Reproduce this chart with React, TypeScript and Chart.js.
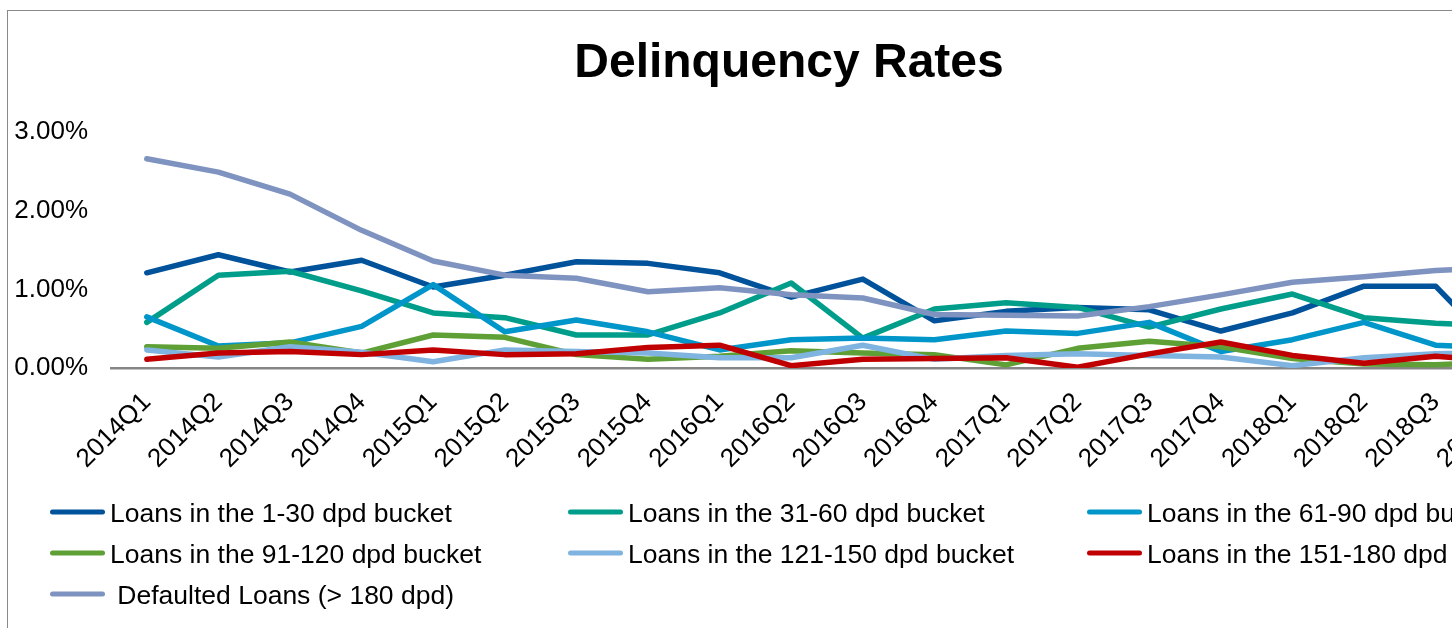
import React, { useEffect, useRef } from 'react';
import { Chart, registerables } from 'chart.js';

Chart.register(...registerables);

const quarters = [
  '2014Q1', '2014Q2', '2014Q3', '2014Q4',
  '2015Q1', '2015Q2', '2015Q3', '2015Q4',
  '2016Q1', '2016Q2', '2016Q3', '2016Q4',
  '2017Q1', '2017Q2', '2017Q3', '2017Q4',
  '2018Q1', '2018Q2', '2018Q3', '2018Q4',
];

const yTicks = [0, 1, 2, 3];

const chartTitle = 'Delinquency Rates';

const bucket1to30 = [1.21, 1.44, 1.22, 1.37, 1.03, 1.18, 1.35, 1.33, 1.21, 0.90, 1.13, 0.60, 0.72, 0.77, 0.74, 0.47, 0.70, 1.04, 1.04, 0.10];
const bucket31to60 = [0.58, 1.18, 1.23, 0.98, 0.70, 0.64, 0.42, 0.42, 0.70, 1.08, 0.38, 0.75, 0.83, 0.77, 0.52, 0.75, 0.94, 0.64, 0.57, 0.53];
const bucket61to90 = [0.65, 0.28, 0.32, 0.53, 1.06, 0.46, 0.61, 0.46, 0.23, 0.36, 0.38, 0.36, 0.47, 0.44, 0.58, 0.21, 0.36, 0.58, 0.29, 0.25];
const bucket91to120 = [0.27, 0.25, 0.33, 0.19, 0.42, 0.39, 0.17, 0.11, 0.15, 0.22, 0.19, 0.17, 0.04, 0.25, 0.34, 0.27, 0.12, 0.05, 0.04, 0.08];
const bucket121to150 = [0.23, 0.14, 0.27, 0.20, 0.08, 0.23, 0.21, 0.19, 0.13, 0.13, 0.29, 0.11, 0.16, 0.18, 0.16, 0.14, 0.03, 0.13, 0.18, 0.20];
const bucket151to180 = [0.11, 0.19, 0.21, 0.17, 0.23, 0.17, 0.18, 0.26, 0.29, 0.03, 0.11, 0.12, 0.13, 0.01, 0.18, 0.33, 0.16, 0.06, 0.15, 0.08];
const defaulted = [2.66, 2.49, 2.21, 1.75, 1.36, 1.18, 1.14, 0.97, 1.02, 0.93, 0.89, 0.68, 0.67, 0.66, 0.78, 0.93, 1.09, 1.16, 1.24, 1.28];

const seriesLabels = [
  'Loans in the 1-30 dpd bucket',
  'Loans in the 31-60 dpd bucket',
  'Loans in the 61-90 dpd bucket',
  'Loans in the 91-120 dpd bucket',
  'Loans in the 121-150 dpd bucket',
  'Loans in the 151-180 dpd bucket',
  ' Defaulted Loans (> 180 dpd)',
];
const seriesValues = [bucket1to30, bucket31to60, bucket61to90, bucket91to120, bucket121to150, bucket151to180, defaulted];
const seriesColors = ['#00529B', '#009E8A', '#0096C9', '#5EA036', '#7FB3E0', '#C00000', '#7F93C1'];

const FONT = '"Liberation Sans", Arial, sans-serif';
const CANVAS_W = 1562;
const CANVAS_H = 630;
const LEGEND_COL_X = [42, 560, 1079];
const LEGEND_ROW_Y = [501, 542, 583];

const titleAndLegend = {
  id: 'titleAndLegend',
  afterDraw(chart: any) {
    const ctx = chart.ctx as CanvasRenderingContext2D;
    ctx.save();
    // title, centred on the whole chart
    ctx.fillStyle = '#000';
    ctx.font = `bold 48px ${FONT}`;
    ctx.textAlign = 'center';
    ctx.textBaseline = 'alphabetic';
    ctx.fillText(chartTitle, chart.width / 2, 66);
    // legend in three columns
    chart.data.datasets.forEach((ds: any, i: number) => {
      const col = i % 3;
      const row = Math.floor(i / 3);
      const x = LEGEND_COL_X[col];
      const y = LEGEND_ROW_Y[row];
      ctx.strokeStyle = ds.borderColor;
      ctx.lineWidth = 5;
      ctx.lineCap = 'round';
      ctx.beginPath();
      ctx.moveTo(x + 2.5, y);
      ctx.lineTo(x + 52.5, y);
      ctx.stroke();
      ctx.fillStyle = '#000';
      ctx.font = `26.5px ${FONT}`;
      ctx.textBaseline = 'alphabetic';
      ctx.textAlign = 'left';
      ctx.fillText(ds.label, x + 60, y + 9.5);
    });
    ctx.restore();
  },
};

export default function App() {
  const ref = useRef<HTMLCanvasElement>(null);

  useEffect(() => {
    const canvas = ref.current;
    if (!canvas) return;
    const chart = new Chart(canvas, {
      type: 'line',
      data: {
        labels: quarters,
        datasets: seriesValues.map((vals, i) => ({
          label: seriesLabels[i],
          data: vals,
          borderColor: seriesColors[i],
          backgroundColor: seriesColors[i],
          borderWidth: 5.5,
          pointRadius: 0,
          pointHoverRadius: 0,
          tension: 0,
          fill: false,
          borderCapStyle: 'round',
          borderJoinStyle: 'round',
          order: seriesValues.length - i,
        })),
      },
      options: {
        responsive: false,
        animation: false,
        devicePixelRatio: 1,
        layout: { padding: { top: 121, right: 27, bottom: 0, left: 0 } },
        plugins: {
          legend: { display: false },
          tooltip: { enabled: false },
          title: { display: false },
        },
        scales: {
          x: {
            type: 'category',
            offset: true,
            grid: { display: false, drawTicks: false },
            border: { display: true, color: '#868686', width: 2.5 },
            ticks: {
              autoSkip: false,
              minRotation: 45,
              maxRotation: 45,
              color: '#000',
              padding: 19,
              font: { family: FONT, size: 26 },
            },
            afterFit: (s: any) => { s.height = CANVAS_H - 357; },
          },
          y: {
            min: yTicks[0],
            max: yTicks[yTicks.length - 1],
            grid: { display: false, drawTicks: false },
            border: { display: false },
            afterBuildTicks: (s: any) => { s.ticks = yTicks.map((v) => ({ value: v })); },
            ticks: {
              color: '#000',
              padding: 23,
              font: { family: FONT, size: 26 },
              callback: (v: any) => Number(v).toFixed(2) + '%',
            },
            afterFit: (s: any) => { s.width = 103; },
          },
        },
      },
      plugins: [titleAndLegend],
    } as any);
    return () => chart.destroy();
  }, []);

  return (
    <div style={{ position: 'fixed', inset: 0, overflow: 'hidden', background: '#fff' }}>
      <div
        style={{
          position: 'absolute',
          left: 7,
          top: 10,
          width: CANVAS_W + 2,
          height: CANVAS_H + 20,
          border: '1px solid #898989',
          boxSizing: 'border-box',
          background: '#fff',
        }}
      >
        <canvas ref={ref} width={CANVAS_W} height={CANVAS_H} style={{ display: 'block', width: CANVAS_W, height: CANVAS_H }} />
      </div>
    </div>
  );
}
